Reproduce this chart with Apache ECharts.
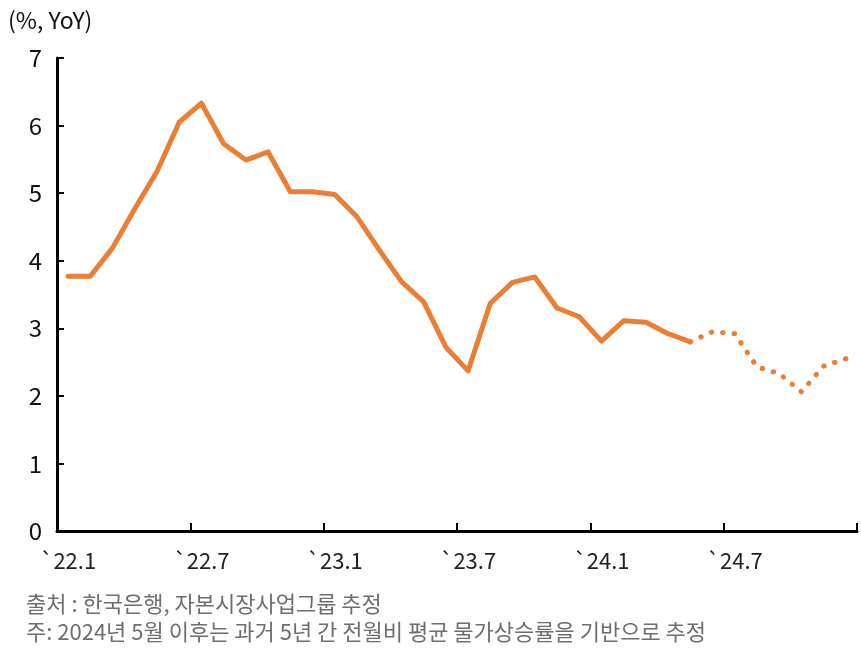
<!DOCTYPE html>
<html>
<head>
<meta charset="utf-8">
<script src="https://cdn.jsdelivr.net/npm/echarts@6/dist/echarts.min.js"></script>
<style>
    html, body { margin: 0; padding: 0; background: #fff; }
    #cpi_graph { width: 861px; height: 656px; }
</style>
</head>
<body>
<div id="cpi_graph"></div>
<script>
//월별 카테고리 ('22.1 ~ '24.12)
var months = [
    '`22.1', '`22.2', '`22.3', '`22.4', '`22.5', '`22.6', '`22.7', '`22.8', '`22.9', '`22.10', '`22.11', '`22.12',
    '`23.1', '`23.2', '`23.3', '`23.4', '`23.5', '`23.6', '`23.7', '`23.8', '`23.9', '`23.10', '`23.11', '`23.12',
    '`24.1', '`24.2', '`24.3', '`24.4', '`24.5', '`24.6', '`24.7', '`24.8', '`24.9', '`24.10', '`24.11', '`24.12'
];
//실적치
var actualValues = [
    3.77, 3.77, 4.19, 4.77, 5.32, 6.05, 6.33, 5.73, 5.49, 5.61, 5.02, 5.02,
    4.98, 4.65, 4.16, 3.69, 3.39, 2.72, 2.37, 3.37, 3.68, 3.76, 3.30, 3.17,
    2.81, 3.11, 3.09, 2.92, 2.80
];
//추정치 (점선)
var forecastValues = [2.80, 2.95, 2.92, 2.43, 2.33, 2.06, 2.44, 2.55];
var forecastStart = 28;

var lineColor = '#E97E34';
var fontName = 'Noto Sans CJK KR';

function buildSeriesData(values, start) {
    var arr = new Array();
    for (var i = 0; i < months.length; i++) {
        var k = i - start;
        arr[i] = (k >= 0 && k < values.length) ? values[k] : null;
    }
    return arr;
}

var cpi_graph = echarts.init(document.getElementById('cpi_graph'));
var option = {
    backgroundColor: '#FFFFFF',
    animation: false,
    textStyle: { fontFamily: fontName },
    title: {
        text: '(%, YoY)',
        left: 3,
        top: 4,
        textStyle: { fontFamily: fontName, fontSize: 23, fontWeight: 'normal', color: '#111' }
    },
    grid: { left: 57, right: 4, top: 58, bottom: 125 },
    xAxis: {
        type: 'category',
        data: months,
        boundaryGap: true,
        axisLine: { lineStyle: { color: '#000', width: 3 } },
        axisTick: { show: true, interval: 5, inside: true, length: 8, lineStyle: { color: '#000', width: 2 } },
        axisLabel: { interval: 5, margin: 19, fontSize: 22, color: '#222', fontFamily: fontName }
    },
    yAxis: {
        type: 'value',
        min: 0,
        max: 7,
        interval: 1,
        splitLine: { show: false },
        axisLine: { show: true, lineStyle: { color: '#000', width: 3 } },
        axisTick: { show: true, inside: true, length: 7, lineStyle: { color: '#000', width: 2 } },
        axisLabel: { margin: 15, fontSize: 24, color: '#111', fontFamily: fontName }
    },
    series: [
        {
            name: '실적',
            type: 'line',
            data: buildSeriesData(actualValues, 0),
            symbol: 'none',
            lineStyle: { color: lineColor, width: 5, join: 'round', cap: 'round' },
            z: 3
        },
        {
            name: '추정',
            type: 'line',
            data: buildSeriesData(forecastValues, forecastStart),
            symbol: 'none',
            lineStyle: { color: lineColor, width: 5, type: [0.5, 11], cap: 'round' },
            z: 2
        }
    ],
    graphic: [
        {
            type: 'text',
            left: 26,
            top: 593,
            style: { text: '출처 : 한국은행, 자본시장사업그룹 추정', fill: '#6e6e6e', fontSize: 22, fontFamily: fontName }
        },
        {
            type: 'text',
            left: 26,
            top: 621,
            style: { text: '주: 2024년 5월 이후는 과거 5년 간 전월비 평균 물가상승률을 기반으로 추정', fill: '#6e6e6e', fontSize: 22, fontFamily: fontName }
        }
    ]
};
cpi_graph.setOption(option);
</script>
</body>
</html>
